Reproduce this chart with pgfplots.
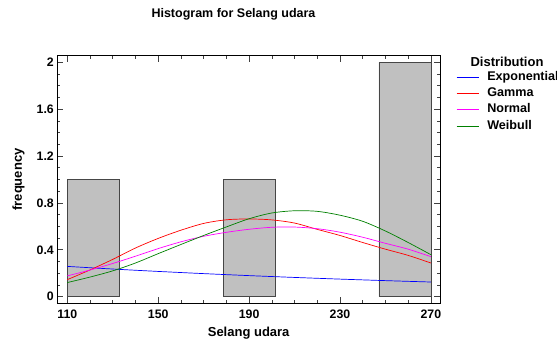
\documentclass[border=0pt]{standalone}
\usepackage{pgfplots}
\pgfplotsset{compat=1.18}
\usepackage{fontspec}
\setmainfont{Liberation Sans}
\definecolor{barfill}{RGB}{192,192,192}
\definecolor{baredge}{RGB}{70,70,70}
\definecolor{cblue}{RGB}{0,0,255}
\definecolor{cred}{RGB}{255,0,0}
\definecolor{cmag}{RGB}{255,0,255}
\definecolor{cgreen}{RGB}{0,128,0}
\begin{document}
\begin{tikzpicture}
\useasboundingbox (0pt,0pt) rectangle (557pt,344pt);
\begin{axis}[
  at={(57.3pt,40.7pt)}, anchor=south west,
  scale only axis, width=382.7pt, height=247.6pt,
  xmin=105.6, xmax=274, ymin=-0.057, ymax=2.057,
  xtick={110,150,190,230,270},
  ytick={0,0.4,0.8,1.2,1.6,2},
  yticklabels={0,0.4,0.8,1.2,1.6,2},
  minor x tick num=3, minor y tick num=3,
  tick align=inside,
  major tick length=6pt, minor tick length=3pt,
  tick style={black!75, line width=0.6pt},
  axis line style={black, line width=0.8pt},
  font=\bfseries\fontsize{13}{15}\selectfont,
  ticklabel style={font=\bfseries\fontsize{12.3}{14}\selectfont},
  /pgf/number format/assume math mode=true,
  xticklabel style={yshift=-3pt},
  xlabel={Selang udara},
  ylabel={frequency},
  xlabel style={at={(axis description cs:0.5,-0.12)}, anchor=center},
  ylabel style={at={(axis description cs:-0.1016,0.5)}, anchor=center},
  legend style={at={(axis description cs:1.0418,0.938)}, anchor=north west,
    draw=none, fill=none, inner sep=0pt, row sep=4.3pt, column sep=8pt,
    nodes={inner sep=0pt, text height=9pt, text depth=3pt},
    font=\bfseries\fontsize{12.6}{15}\selectfont},
  legend cell align=left,
  legend image post style={xscale=1.3},
  clip=false,
]
\addplot[fill=barfill, draw=baredge, line width=0.8pt, forget plot] coordinates {(110,0)(110,1)(132.857,1)(132.857,0)} \closedcycle;
\addplot[fill=barfill, draw=baredge, line width=0.8pt, forget plot] coordinates {(178.571,0)(178.571,1)(201.429,1)(201.429,0)} \closedcycle;
\addplot[fill=barfill, draw=baredge, line width=0.8pt, forget plot] coordinates {(247.143,0)(247.143,2)(270,2)(270,0)} \closedcycle;

\addplot[draw=cblue, line width=0.7pt, smooth, forget plot] coordinates {
(110,0.258)(120,0.2466)(130,0.2356)(140,0.2251)(150,0.2151)(160,0.2056)(170,0.1964)(180,0.1877)(190,0.1793)(200,0.1714)(210,0.1638)(220,0.1565)(230,0.1495)(240,0.1429)(250,0.1365)(260,0.1305)(270,0.1247)};
\addplot[draw=cred, line width=0.7pt, smooth, forget plot] coordinates {
(110,0.145)(120,0.228)(130,0.318)(140,0.415)(150,0.497)(160,0.567)(170,0.625)(180,0.656)(190,0.663)(200,0.655)(210,0.628)(220,0.574)(230,0.522)(240,0.462)(250,0.405)(260,0.352)(270,0.287)};
\addplot[draw=cmag, line width=0.7pt, smooth, forget plot] coordinates {
(110,0.177)(120,0.227)(130,0.283)(140,0.345)(150,0.41)(160,0.468)(170,0.515)(180,0.549)(190,0.575)(200,0.592)(210,0.594)(220,0.58)(230,0.55)(240,0.507)(250,0.455)(260,0.405)(270,0.341)};
\addplot[draw=cgreen, line width=0.7pt, smooth, forget plot] coordinates {
(110,0.12)(120,0.167)(130,0.22)(140,0.287)(150,0.367)(160,0.445)(170,0.522)(180,0.595)(190,0.665)(200,0.714)(210,0.733)(220,0.728)(230,0.695)(240,0.643)(250,0.56)(260,0.462)(270,0.358)};

\addlegendimage{cblue, line width=0.9pt}
\addlegendentry{Exponential}
\addlegendimage{cred, line width=0.9pt}
\addlegendentry{Gamma}
\addlegendimage{cmag, line width=0.9pt}
\addlegendentry{Normal}
\addlegendimage{cgreen, line width=0.9pt}
\addlegendentry{Weibull}

\node[anchor=center, font=\bfseries\fontsize{12.5}{14}\selectfont] at (axis description cs:0.4604,1.168) {Histogram for Selang udara};
\node[anchor=west, font=\bfseries\fontsize{13}{15}\selectfont] at (axis description cs:1.0706,0.976) {Distribution};
\end{axis}
\end{tikzpicture}
\end{document}
